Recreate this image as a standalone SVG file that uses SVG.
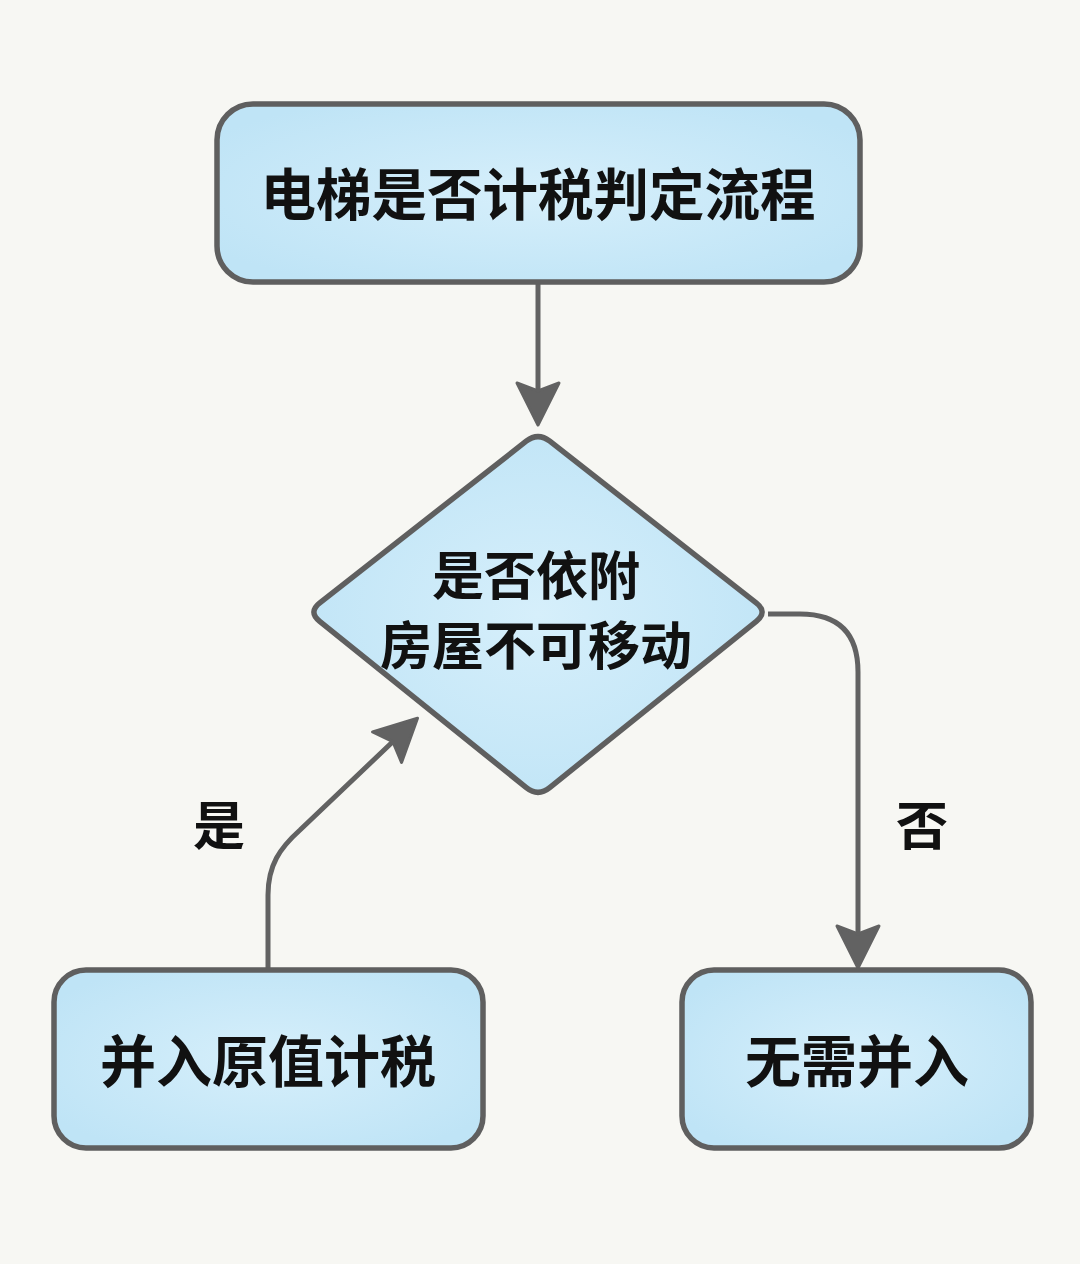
<svg xmlns="http://www.w3.org/2000/svg" width="1080" height="1264" viewBox="0 0 1080 1264">
  <defs>
    <radialGradient id="fillGrad" cx="50%" cy="50%" r="60%">
      <stop offset="0%" stop-color="#d6effb"/>
      <stop offset="100%" stop-color="#bfe4f6"/>
    </radialGradient>
    <marker id="arrow" markerUnits="userSpaceOnUse" viewBox="-30 -30 60 60" refX="0" refY="0" markerWidth="60" markerHeight="60" orient="auto">
      <path d="M20,0 L-22,-21 L-14,0 L-22,21 Z" fill="#626262" stroke="#626262" stroke-width="3" stroke-linejoin="round"/>
    </marker>
    <style>
      .node { fill: url(#fillGrad); stroke: #5f5f5f; stroke-width: 5.5; stroke-linejoin: round; }
      .lbl { font-family: "Noto Sans CJK SC", "Noto Sans", sans-serif; font-weight: 700; fill: #111; text-anchor: middle; }
      .edge { fill: none; stroke: #626262; stroke-width: 5; stroke-linecap: butt; stroke-linejoin: round; marker-end: url(#arrow); }
    </style>
  </defs>
  <rect x="0" y="0" width="1080" height="1264" fill="#f7f7f3"/>

  <g id="connectors">
    <path class="edge" d="M538,283 L538,405"/>
    <path class="edge" d="M268,968 L268,895 C268,865 280,848 300,830 L403,732"/>
    <path class="edge" d="M768,614 L800,614 Q858,614 858,672 L858,948"/>
    <text class="lbl" x="219" y="845" font-size="52">是</text>
    <text class="lbl" x="922" y="845" font-size="52">否</text>
  </g>

  <g id="node-title">
    <rect class="node" x="217" y="104" width="643" height="178" rx="36"/>
    <text class="lbl" x="538" y="215" font-size="55.5">电梯是否计税判定流程</text>
  </g>

  <g id="node-decision">
    <path class="node" d="M526.2,441.2 Q538,432 549.8,441.2 L756.2,602.8 Q768,612 756.3,621.4 L549.7,787.6 Q538,797 526.3,787.6 L319.7,621.4 Q308,612 319.8,602.8 Z"/>
    <text class="lbl" x="536" y="595" font-size="52">是否依附</text>
    <text class="lbl" x="536" y="665" font-size="52">房屋不可移动</text>
  </g>

  <g id="node-yes">
    <rect class="node" x="54" y="970" width="429" height="178" rx="32"/>
    <text class="lbl" x="268" y="1082" font-size="56">并入原值计税</text>
  </g>

  <g id="node-no">
    <rect class="node" x="682" y="970" width="349" height="178" rx="32"/>
    <text class="lbl" x="857" y="1082" font-size="56">无需并入</text>
  </g>
</svg>
